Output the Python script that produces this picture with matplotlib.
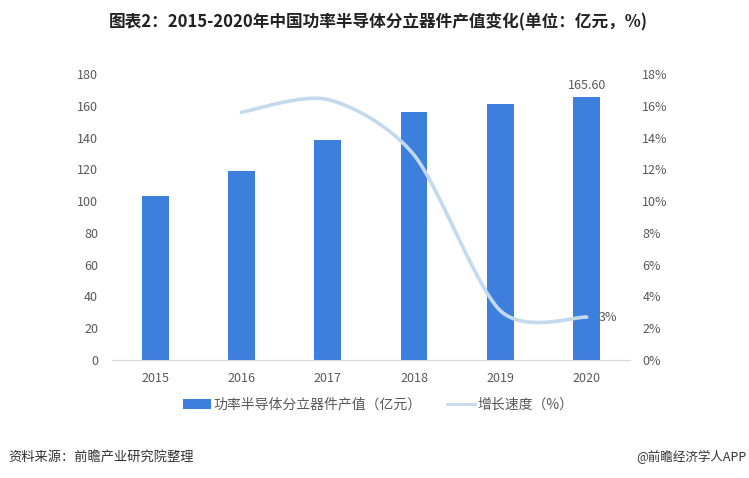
import matplotlib
matplotlib.use('Agg')
import matplotlib.pyplot as plt
from matplotlib.patches import Patch
from matplotlib.lines import Line2D
import numpy as np

plt.rcParams['font.family'] = ['Noto Sans CJK SC', 'DejaVu Sans']

# data
years = ['2015', '2016', '2017', '2018', '2019', '2020']
output = [103.4, 119.1, 138.4, 156.3, 161.2, 165.6]
growth_years = ['2016', '2017', '2018', '2019', '2020']
growth = [15.6, 16.4, 12.9, 3.1, 2.7]

bar_color = '#3c7fdc'
line_color = '#c3d9ee'
text_gray = '#595959'


def smooth_curve(xs, ys, tension=0.14, n=40):
    """Excel style smoothed line: cubic bezier through the points"""
    xs = np.asarray(xs, dtype=float)
    ys = np.asarray(ys, dtype=float)
    px = np.concatenate([[xs[0]], xs, [xs[-1]]])
    py = np.concatenate([[ys[0]], ys, [ys[-1]]])
    out_x, out_y = [], []
    t = np.linspace(0, 1, n)
    for i in range(1, len(px) - 2):
        p0 = np.array([px[i], py[i]])
        p3 = np.array([px[i + 1], py[i + 1]])
        c1 = p0 + (np.array([px[i + 1], py[i + 1]]) - np.array([px[i - 1], py[i - 1]])) * tension
        c2 = p3 - (np.array([px[i + 2], py[i + 2]]) - np.array([px[i], py[i]])) * tension
        bx = ((1 - t) ** 3 * p0[0] + 3 * (1 - t) ** 2 * t * c1[0]
              + 3 * (1 - t) * t ** 2 * c2[0] + t ** 3 * p3[0])
        by = ((1 - t) ** 3 * p0[1] + 3 * (1 - t) ** 2 * t * c1[1]
              + 3 * (1 - t) * t ** 2 * c2[1] + t ** 3 * p3[1])
        out_x.extend(bx)
        out_y.extend(by)
    return np.array(out_x), np.array(out_y)


fig = plt.figure(figsize=(7.49, 4.78), dpi=100)
ax = fig.add_axes([0.1495, 0.2469, 0.6915, 0.5981])

x = np.arange(len(years))
ax.bar(x, output, width=0.31, color=bar_color, zorder=2)
ax.set_xlim(-0.5, len(years) - 0.5)
ax.set_ylim(0, 180)
ax.set_yticks(np.arange(0, 181, 20))
ax.set_xticks(x)
ax.set_xticklabels(years)

for s in ['top', 'right', 'left']:
    ax.spines[s].set_visible(False)
ax.spines['bottom'].set_color('#d9d9d9')
ax.tick_params(axis='both', length=0, labelsize=9, colors=text_gray)
ax.tick_params(axis='x', pad=9)
ax.tick_params(axis='y', pad=10)

# value label on last bar
ax.text(x[-1], output[-1] + 3, '%.2f' % output[-1], ha='center', va='bottom',
        fontsize=9, color=text_gray)

# growth line on right axis
ax2 = ax.twinx()
ax2.set_ylim(0, 18)
ax2.set_yticks(np.arange(0, 19, 2))
ax2.set_yticklabels(['%d%%' % v for v in np.arange(0, 19, 2)])
for s in ['top', 'right', 'left', 'bottom']:
    ax2.spines[s].set_visible(False)
ax2.tick_params(axis='y', length=0, labelsize=9, colors=text_gray, pad=9)

gx = [years.index(y) for y in growth_years]
sx, sy = smooth_curve(gx, growth)
ax2.plot(sx, sy, color=line_color, lw=2.6, solid_capstyle='round', zorder=3)
ax2.text(gx[-1] + 0.14, growth[-1], '%d%%' % round(growth[-1]), ha='left', va='center',
         fontsize=9, color=text_gray)

# legend
handles = [Patch(facecolor=bar_color, edgecolor='none'),
           Line2D([0], [0], color=line_color, lw=2)]
labels = ['功率半导体分立器件产值（亿元）', '增长速度（%）']
leg = fig.legend(handles, labels, loc='center', bbox_to_anchor=(0.505, 0.153), ncol=2,
                 frameon=False, fontsize=10, handlelength=2.0, handletextpad=0.2,
                 columnspacing=1.8)
for t in leg.get_texts():
    t.set_color(text_gray)

# title and footer
fig.text(0.505, 0.953, '图表2：2015-2020年中国功率半导体分立器件产值变化(单位：亿元，%)',
         ha='center', va='center', fontsize=12, fontweight='bold', color='#222222')
fig.text(0.011, 0.043, '资料来源：前瞻产业研究院整理', ha='left', va='center',
         fontsize=9.5, color='#333333')
fig.text(0.996, 0.043, '@前瞻经济学人APP', ha='right', va='center',
         fontsize=9, color='#333333')

fig.savefig('out.png', dpi=100)
plt.close(fig)
